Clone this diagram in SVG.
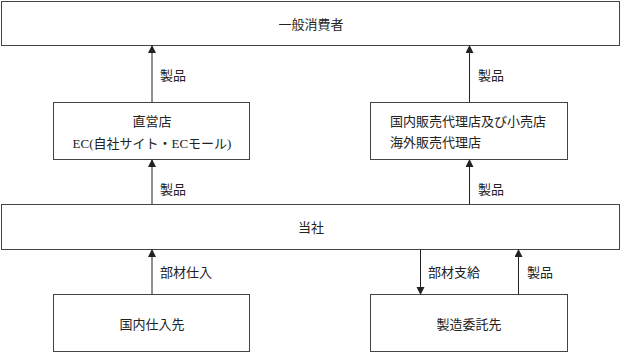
<svg xmlns="http://www.w3.org/2000/svg" width="621" height="352" viewBox="0 0 621 352">
<defs>
<marker id="ah" markerWidth="8" markerHeight="10" refX="7" refY="4" orient="auto" markerUnits="userSpaceOnUse">
<path d="M0,0 L8,4 L0,8 Z" fill="#222"/>
</marker>
<style>
rect{fill:#fff;stroke:#444;stroke-width:1}
text{font-family:"Liberation Serif","Noto Sans CJK JP",serif;font-size:13px;fill:#222}
.c{text-anchor:middle}
line{stroke:#222;stroke-width:1;marker-end:url(#ah)}
</style>
</defs>
<rect x="0" y="0" width="621" height="352" style="fill:#fff;stroke:none"/>
<g id="consumer"><rect x="1.5" y="1.5" width="618" height="44"/><text class="c" x="311" y="29">一般消費者</text></g>
<g id="direct"><rect x="53.5" y="102.5" width="196" height="57"/><text class="c" x="152" y="126">直営店</text><text class="c" x="152" y="148">EC(自社サイト・ECモール)</text></g>
<g id="agency"><rect x="370.5" y="102.5" width="197" height="57"/><text x="390" y="126">国内販売代理店及び小売店</text><text x="390" y="147">海外販売代理店</text></g>
<g id="company"><rect x="1.5" y="204.5" width="618" height="45"/><text class="c" x="311" y="232">当社</text></g>
<g id="domestic"><rect x="53.5" y="294.5" width="196" height="57"/><text class="c" x="152" y="329">国内仕入先</text></g>
<g id="contract"><rect x="370.5" y="294.5" width="197" height="57"/><text class="c" x="469" y="329">製造委託先</text></g>
<g id="connectors">
<line x1="152" y1="102" x2="152" y2="46"/>
<line x1="469.5" y1="102" x2="469.5" y2="46"/>
<line x1="152" y1="204" x2="152" y2="160"/>
<line x1="469.5" y1="204" x2="469.5" y2="160"/>
<line x1="152" y1="294" x2="152" y2="250"/>
<line x1="420.5" y1="250" x2="420.5" y2="294"/>
<line x1="518.5" y1="294" x2="518.5" y2="250"/>
<text x="160" y="80">製品</text>
<text x="478" y="80">製品</text>
<text x="160" y="194">製品</text>
<text x="478" y="194">製品</text>
<text x="160" y="277">部材仕入</text>
<text x="428" y="277">部材支給</text>
<text x="527" y="277">製品</text>
</g>
</svg>
